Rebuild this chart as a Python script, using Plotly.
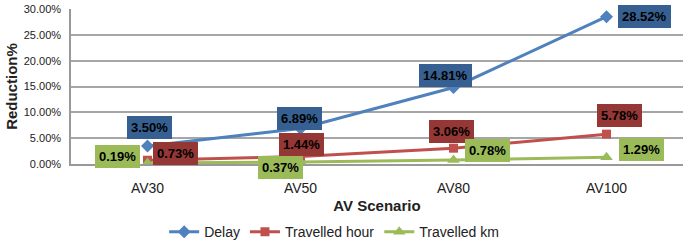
import plotly.graph_objects as go

categories = ["AV30", "AV50", "AV80", "AV100"]
delay = [3.50, 6.89, 14.81, 28.52]
travelled_hour = [0.73, 1.44, 3.06, 5.78]
travelled_km = [0.19, 0.37, 0.78, 1.29]
y_ticks = [0, 5, 10, 15, 20, 25, 30]

series = [
    ("Delay", delay, "#4F81BD", "diamond", 10, "#376092"),
    ("Travelled hour", travelled_hour, "#C0504D", "square", 9, "#953735"),
    ("Travelled km", travelled_km, "#9BBB59", "triangle-up", 11, "#9BBB59"),
]

# label offsets (pixels) per series, per point
offsets = {
    "Delay": [(2, 18), (-1, 10), (-8, 12), (38, 0)],
    "Travelled hour": [(28, 7), (1, 12), (-2, 17), (13, 19)],
    "Travelled km": [(-30, 7), (-20, -5), (34, 9), (35, 8)],
}

fig = go.Figure()
for name, vals, col, sym, size, boxcol in series:
    fig.add_trace(go.Scatter(
        x=categories, y=vals, name=name, mode="lines+markers",
        line=dict(color=col, width=3),
        marker=dict(symbol=sym, size=size, color=col),
    ))

for name, vals, col, sym, size, boxcol in series:
    for i, (c, v) in enumerate(zip(categories, vals)):
        dx, dy = offsets[name][i]
        fig.add_annotation(
            x=c, y=v, xref="x", yref="y", text=f"<b>{v:.2f}%</b>",
            showarrow=False, xshift=dx, yshift=dy,
            bgcolor=boxcol, bordercolor=boxcol, borderpad=3,
            font=dict(family="Liberation Sans", size=13, color="black"),
        )

fig.update_layout(
    width=685, height=240,
    margin=dict(l=71, r=2, t=9, b=76, autoexpand=False),
    paper_bgcolor="white", plot_bgcolor="white",
    font=dict(family="Liberation Sans", size=11, color="#222"),
    showlegend=True,
    legend=dict(orientation="h", x=0.43, xanchor="center",
                y=-0.44, yanchor="middle",
                font=dict(size=14, color="#222"), tracegroupgap=0),
    xaxis=dict(
        type="category", range=[-0.5, 3.5], showgrid=False, automargin=False,
        showline=True, linecolor="#999", linewidth=1.5,
        ticks="", tickfont=dict(size=14), ticklabelstandoff=10,
        title=dict(text="<b>AV Scenario</b>", font=dict(size=15), standoff=6),
    ),
    yaxis=dict(
        range=[0, 30], tickvals=y_ticks, ticktext=[f"{t:.2f}%" for t in y_ticks],
        showgrid=True, gridcolor="#a6a6a6", gridwidth=1.5, automargin=False,
        showline=True, linecolor="#999", linewidth=1.5,
        zeroline=False, ticks="", tickfont=dict(size=11), ticklabelstandoff=6,
        title=dict(text="<b>Reduction%</b>", font=dict(size=15), standoff=2),
    ),
)

fig.write_html("out.html", post_script="document.body.style.margin='0';",
               config={"displayModeBar": False})
